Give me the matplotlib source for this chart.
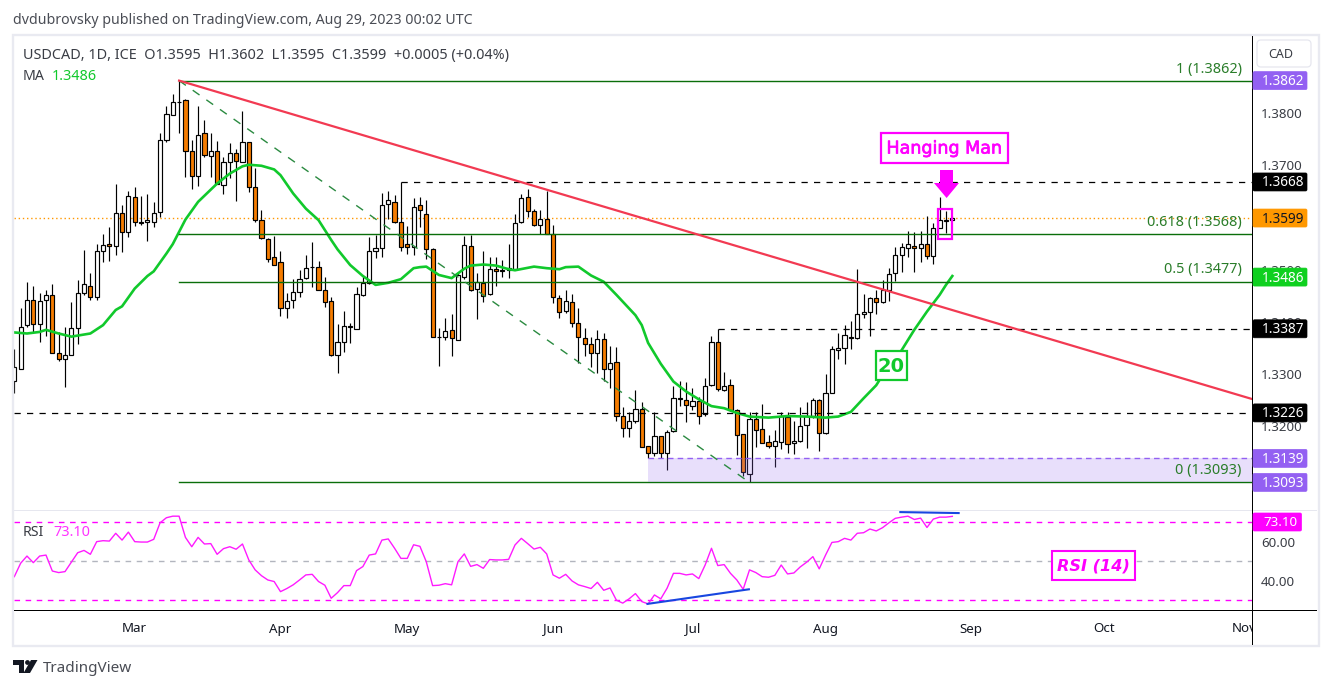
import numpy as np
import matplotlib
matplotlib.use("Agg")
import matplotlib.pyplot as plt
import matplotlib.patheffects as pe
from matplotlib.patches import Rectangle, Polygon, FancyBboxPatch, Circle
from matplotlib.transforms import Affine2D

# OHLC, price x 10000, one entry per daily bar
opens = [13288,13311,13395,13443,13397,13443,13452,13340,13330,13336,
13388,13455,13469,13448,13535,13549,13546,13608,13573,13640,
13591,13592,13591,13611,13749,13797,13821,13824,13728,13679,
13761,13717,13727,13663,13707,13724,13707,13744,13658,13595,
13558,13524,13514,13427,13443,13457,13485,13505,13506,13462,
13441,13337,13361,13392,13387,13452,13474,13535,13541,13625,
13629,13591,13549,13543,13623,13606,13539,13371,13371,13384,
13366,13487,13545,13464,13474,13453,13501,13499,13499,13501,
13591,13639,13612,13585,13598,13568,13445,13422,13439,13399,
13369,13357,13340,13367,13311,13323,13221,13198,13210,13233,
13162,13150,13181,13150,13191,13254,13250,13240,13248,13223,
13279,13361,13269,13279,13231,13185,13110,13214,13196,13170,
13162,13170,13219,13168,13172,13202,13221,13250,13187,13265,
13346,13351,13372,13369,13416,13420,13445,13439,13461,13493,
13529,13541,13545,13541,13550,13526,13579,13594,13595]
highs = [13348,13426,13476,13468,13455,13462,13473,13380,13390,13439,
13480,13537,13493,13549,13568,13582,13665,13623,13651,13658,
13641,13645,13629,13761,13814,13836,13862,13826,13749,13813,
13787,13761,13746,13716,13743,13732,13804,13745,13694,13615,
13560,13565,13535,13455,13483,13499,13529,13553,13517,13487,
13448,13396,13421,13399,13467,13489,13562,13566,13646,13650,
13644,13667,13584,13637,13639,13633,13541,13388,13407,13415,
13496,13564,13566,13493,13536,13524,13524,13519,13549,13606,
13645,13654,13617,13614,13651,13585,13452,13461,13453,13426,
13388,13371,13384,13378,13354,13353,13238,13228,13270,13246,
13163,13227,13181,13194,13277,13287,13285,13273,13256,13292,
13373,13387,13304,13290,13233,13185,13227,13227,13243,13184,
13193,13227,13227,13210,13238,13247,13254,13252,13300,13354,
13378,13394,13401,13501,13453,13448,13462,13480,13503,13544,
13552,13574,13573,13574,13603,13589,13639,13612,13602]
lows = [13265,13311,13391,13381,13362,13373,13340,13326,13276,13336,
13358,13452,13443,13443,13515,13517,13528,13534,13563,13584,
13585,13555,13582,13601,13745,13797,13762,13678,13654,13660,
13716,13678,13664,13645,13675,13632,13706,13649,13592,13558,
13515,13509,13411,13408,13427,13448,13483,13467,13461,13429,
13335,13303,13343,13360,13386,13450,13473,13523,13525,13598,
13590,13536,13530,13528,13582,13521,13371,13316,13365,13335,
13365,13482,13460,13406,13439,13452,13469,13487,13484,13499,
13589,13600,13584,13568,13568,13437,13408,13418,13391,13322,
13335,13314,13302,13288,13273,13211,13179,13180,13207,13160,
13140,13144,13140,13117,13190,13239,13209,13231,13205,13221,
13277,13267,13268,13230,13145,13105,13093,13161,13168,13158,
13122,13156,13150,13148,13171,13159,13216,13154,13186,13264,
13329,13320,13349,13368,13407,13373,13415,13436,13440,13478,
13496,13524,13496,13514,13520,13511,13579,13570,13595]
closes = [13314,13391,13443,13397,13441,13451,13341,13330,13336,13388,
13455,13472,13447,13536,13547,13545,13608,13573,13642,13591,
13590,13595,13608,13749,13799,13822,13822,13728,13679,13758,
13719,13727,13665,13707,13723,13709,13744,13658,13596,13560,
13521,13510,13426,13441,13457,13483,13503,13506,13462,13439,
13337,13361,13392,13390,13453,13474,13535,13541,13623,13633,
13591,13543,13543,13621,13614,13539,13371,13371,13382,13369,
13489,13547,13462,13476,13449,13501,13497,13497,13503,13589,
13637,13612,13585,13598,13569,13447,13420,13441,13399,13371,
13357,13340,13367,13311,13321,13221,13198,13210,13233,13161,
13150,13181,13150,13189,13254,13253,13242,13248,13221,13277,
13361,13271,13277,13231,13183,13112,13214,13194,13168,13162,
13172,13221,13166,13173,13200,13221,13250,13187,13265,13348,
13351,13376,13369,13415,13420,13445,13438,13461,13491,13529,
13543,13549,13541,13550,13526,13579,13595,13595,13599]

# 20-day moving average, read at these bar numbers
ma_bars = [0,2,4,5,7,9,12,14,16,17,19,21,22,24,25,27,29,32,34,36,37,39,41,42,44,46,48,50,
51,53,55,57,59,61,63,64,65,67,69,70,71,72,74,76,78,79,82,84,86,87,89,91,93,95,98,99,
100,102,104,106,108,110,112,114,116,119,122,125,128,130,132,134,136,138,140,142,144,146,147,148]
ma_vals = [13380,13378,13381,13385,13378,13372,13378,13394,13423,13430,13464,13488,13497,13531,13549,13596,13630,13665,13684,13698,13701,13699,13692,13681,13646,13617,13595,13557,
13539,13509,13488,13471,13475,13482,13503,13505,13506,13490,13484,13493,13502,13508,13510,13508,13501,13499,13506,13503,13501,13505,13506,13489,13477,13452,13413,13394,
13360,13320,13286,13267,13252,13239,13235,13226,13219,13217,13220,13219,13217,13219,13228,13254,13279,13318,13346,13385,13420,13452,13471,13488]

# RSI(14), one entry per bar
rsi_vals = [42.1,49.0,52.7,49.3,52.7,53.2,45.0,44.2,44.7,49.5,54.4,55.6,53.6,60.1,60.6,60.4,64.4,60.9,65.0,60.1,
59.9,59.9,61.3,69.8,72.4,73.2,73.2,62.3,57.5,62.3,58.9,59.1,53.6,56.5,57.5,56.2,58.9,50.7,45.6,42.6,
40.4,39.6,34.4,36.0,37.9,40.4,43.0,43.3,39.6,37.7,31.0,33.9,37.5,37.5,45.2,47.3,53.2,53.8,60.9,61.5,
56.7,51.5,51.5,58.5,57.7,49.8,37.5,37.7,38.5,37.9,49.8,53.8,47.4,48.3,46.4,50.9,50.7,
50.7,51.0,58.4,61.8,59.1,56.3,57.2,53.8,43.0,41.3,43.3,39.9,37.9,37.0,36.0,39.2,35.1,36.3,30.0,28.5,
30.7,33.4,29.3,28.1,32.7,30.7,36.2,43.8,43.8,43.0,43.5,41.1,48.1,56.7,47.8,48.3,43.8,40.4,35.6,45.6,
44.2,42.1,41.8,42.8,48.1,43.5,44.0,47.1,49.5,52.4,46.1,53.2,59.7,60.1,61.8,60.9,64.4,64.7,66.6,65.6,
67.3,69.8,72.1,72.7,73.2,71.5,72.2,67.4,71.7,72.7,72.7,73.1]

price_ticks = [1.38,1.37,1.35,1.34,1.33,1.32]
rsi_ticks = [60,40]
months = ["Mar","Apr","May","Jun","Jul","Aug","Sep","Oct","Nov"]
month_starts = ["2023-03-01","2023-04-03","2023-05-01","2023-06-01","2023-07-03","2023-08-01","2023-09-01","2023-10-02","2023-11-01"]
first_bar = "2023-02-02"
month_bars = [int(np.busday_count(first_bar, d)) for d in month_starts]

fib_levels = [1.3862, 1.3568, 1.3477, 1.3093]
fib_names = ["1 (1.3862)", "0.618 (1.3568)", "0.5 (1.3477)", "0 (1.3093)"]
last_price = 1.3599
tags = [("1.3862",1.3862,"#9360f2","white"),("1.3668",1.3668,"black","white"),("1.3599",1.3599,"#ff9800","#131722"),
        ("1.3486",1.3486,"#0fd01f","white"),("1.3387",1.3387,"black","white"),("1.3226",1.3226,"black","white"),
        ("1.3139",1.3139,"#9360f2","white"),("1.3093",1.3093,"#9360f2","white")]

plt.rcParams['font.family'] = ['Noto Sans', 'DejaVu Sans']
W, H = 1330, 689
fig = plt.figure(figsize=(W/100, H/100), dpi=100, facecolor="white")
px = Affine2D().scale(1/W, -1/H).translate(0, 1) + fig.transFigure

def axes_px(l, t, r, b):
    return fig.add_axes([l/W, 1-b/H, (r-l)/W, (b-t)/H])

X0, DX = 14.3, 6.338
def ix(p): return (p-X0)/DX
def py(p): return 1.38-(p-113)/5225
def ry(p): return 50+(561.3-p)/1.945

ax = axes_px(14, 36, 1252, 510.5)
ax.set_xlim(ix(14), ix(1252)); ax.set_ylim(py(510.5), py(36))
rx = axes_px(14, 510.5, 1252, 610)
rx.set_xlim(ix(14), ix(1252)); rx.set_ylim(ry(610), ry(510.5))

o, h, l, c = [np.array(a)/1e4 for a in (opens, highs, lows, closes)]
bars = np.arange(len(o))
ink = "#000000"; down = "#f57c00"
ax.vlines(bars, l, h, color=ink, lw=0.85, zorder=3)
cols = [down if b < a else "white" for a, b in zip(o, c)]
ax.bar(bars, np.abs(c-o), bottom=np.minimum(o, c), width=0.66, color=cols, edgecolor=ink, lw=0.85, zorder=4)

ax.plot(ma_bars, np.array(ma_vals)/1e4, color="#11c92c", lw=1.9, zorder=5, solid_joinstyle="round")

# fib lines
for v in fib_levels:
    ax.plot([26, ix(1252)], [v, v], color="#0a6e0a", lw=1.0, zorder=6)
ax.add_patch(Rectangle((100, 1.3093), ix(1252)-100, 1.3139-1.3093, fc="#9a70f0", alpha=0.22, ec="none", zorder=6))
ax.plot([100, ix(1252)], [1.3139, 1.3139], color="#9360f2", lw=1.0, ls=(0, (4, 3)), zorder=6)
ax.plot([26, 116], [1.3862, 1.3093], color="#2a8a40", lw=1.0, ls=(0, (6, 6)), zorder=6)
ax.plot([26, ix(1252)], [1.3862, py(399)], color="#f23a52", lw=1.6, zorder=7)
dash = (0, (5, 5))
ax.plot([61, ix(1252)], [1.3668, 1.3668], color="black", lw=0.9, ls=dash, zorder=6)
ax.plot([111, ix(1252)], [1.3387, 1.3387], color="black", lw=0.9, ls=dash, zorder=6)
ax.plot([ix(14), ix(1252)], [1.3226, 1.3226], color="black", lw=0.9, ls=dash, zorder=6)
ax.axhline(last_price, color="#ff9800", lw=1.0, ls=(0, (1, 2)), zorder=2)

ax.add_patch(Rectangle((145.8, py(239.3)), 148.0-145.8, py(208.7)-py(239.3), fc="none", ec="#ff00ff", lw=1.6, zorder=8))

for ax_ in (ax, rx):
    for s in ax_.spines.values():
        s.set_visible(False)
    ax_.patch.set_alpha(0)
ax.set_xticks([])
ax.yaxis.tick_right()
ax.set_yticks(price_ticks, [f"{v:.4f}" for v in price_ticks], color="#3a3d45", fontsize=9.6)
ax.tick_params(axis="y", length=0, pad=6.5)
for t in ax.get_yticklabels():
    t.set_y(t.get_position()[1])

rx.plot(bars, rsi_vals, color="#ff1aff", lw=1.0, zorder=4)
rx.plot([ix(14), ix(1252)], [70, 70], color="#ff00ff", lw=1.0, ls=(0, (4, 4)), zorder=2)
rx.plot([ix(14), ix(1252)], [30, 30], color="#ff00ff", lw=1.0, ls=(0, (4, 4)), zorder=2)
rx.plot([ix(14), ix(1252)], [50, 50], color="#b2b5be", lw=1.0, ls=(0, (4, 4)), zorder=2)
rx.plot([99.9, 115.9], [28.1, 35.6], color="#1846e0", lw=1.5, zorder=5)
rx.plot([139.8, 149], [75.3, 74.8], color="#1846e0", lw=1.5, zorder=5)
rx.yaxis.tick_right()
rx.set_yticks(rsi_ticks, [f"{v:.2f}" for v in rsi_ticks], color="#3a3d45", fontsize=9.6)
rx.tick_params(axis="y", length=0, pad=6.5)
rx.set_xticks(month_bars, months, fontsize=9.6, fontweight="bold", color="#131722")
rx.tick_params(axis="x", length=0, pad=9)

def add(artist):
    artist.set_transform(px); fig.add_artist(artist); return artist

# frame and separators
add(Rectangle((12.5, 34.5), 1306, 611, fc="none", ec="#e9eaf1", lw=1.7, zorder=2))
add(Rectangle((14, 509.8), 1303, 1.2, fc="#e6e7ef", ec="none", zorder=2))
add(Rectangle((1253, 611), 63, 33, fc="white", ec="none", zorder=3))
add(Rectangle((14, 609.6), 1303, 1.1, fc="black", ec="none", zorder=4))
add(Rectangle((1251.8, 36), 1.1, 609, fc="black", ec="none", zorder=4))

def txt(x, y, s, **kw):
    kw.setdefault("va", "center"); kw.setdefault("zorder", 12)
    return fig.text(x/W, 1-(y+1.5)/H, s, **kw)

# price tags
for s, v, fc, tc in tags:
    yp = 113+(1.38-v)*5225
    add(FancyBboxPatch((1253, yp-9), 54, 18, boxstyle="round,pad=0,rounding_size=1.5", fc=fc, ec=fc, lw=0.5, zorder=6))
    txt(1283, yp-0.5, s, ha="center", color=tc, fontsize=9.8, fontweight="bold" if tc == "white" else "normal", zorder=7)
add(FancyBboxPatch((1253, 513), 48.5, 18, boxstyle="round,pad=0,rounding_size=1.5", fc="#ff00ff", ec="#ff00ff", lw=0.5, zorder=6))
txt(1280, 521.5, "73.10", ha="center", color="white", fontsize=9.6, fontweight="bold", zorder=7)
add(FancyBboxPatch((1257, 40), 54, 27, boxstyle="round,pad=0,rounding_size=4", fc="white", ec="#e6e7ef", lw=0.9, zorder=6))
txt(1280.5, 53.5, "CAD", ha="center", color="#3a3d45", fontsize=9.0, zorder=7)

# fib labels
for s, yp in zip(fib_names, [68, 221, 268, 469]):
    txt(1241.5, yp, s, ha="right", color="#2a7d2a", fontsize=10.4)

# header and legends
txt(13, 19.5, "dvdubrovsky published on TradingView.com, Aug 29, 2023 00:02 UTC", color="#4a4d55", fontsize=10.2)
txt(23, 53.5, "USDCAD, 1D, ICE  O1.3595  H1.3602  L1.3595  C1.3599  +0.0005 (+0.04%)", color="#3a3d45", fontsize=10.4)
txt(23, 74.5, "MA", color="#3a3d45", fontsize=10.2)
txt(52, 74.5, "1.3486", color="#11c92c", fontsize=10.4)
txt(23, 530.5, "RSI", color="#3a3d45", fontsize=10.2)
txt(53, 530.5, "73.10", color="#ff33ff", fontsize=10.4)
txt(43, 666.5, "TradingView", color="#4a4d55", fontsize=11)

# annotations
medium = [pe.withStroke(linewidth=0.5, foreground="#ff00ff")]
add(Rectangle((881, 133), 127, 29.5, fc="white", ec="#ff00ff", lw=1.6, zorder=10))
txt(944.5, 147, "Hanging Man", ha="center", color="#ff00ff", fontsize=12.6, family="DejaVu Sans", zorder=11, path_effects=medium)
add(Polygon([(940,170),(953,170),(953,183),(959,183),(946.6,198),(934,183),(940,183)], fc="#ff00ff", ec="none", zorder=10))
add(Rectangle((875.5, 351), 31.5, 29, fc="white", ec="#11c92c", lw=1.6, zorder=10))
txt(891, 365, "20", ha="center", color="#11c92c", fontsize=14, family="DejaVu Sans", fontweight="bold", zorder=11)
add(Rectangle((1052, 551), 82.5, 28.5, fc="white", ec="#ff00ff", lw=1.5, zorder=10))
txt(1093, 564.5, "RSI (14)", ha="center", color="#ff00ff", fontsize=11.6, family="DejaVu Sans", style="italic", fontweight="bold", zorder=11)

# logo
add(Polygon([(13,660),(24,660),(24,673),(18.5,673),(18.5,665),(13,665)], fc="#131722", ec="none", zorder=5))
add(Circle((27.5, 662.5), 2.4, fc="#131722", ec="none", zorder=5))
add(Polygon([(31,660),(37.5,660),(30,673),(23.5,673)], fc="#131722", ec="none", zorder=5))

fig.savefig("out.png", dpi=100, facecolor="white")
